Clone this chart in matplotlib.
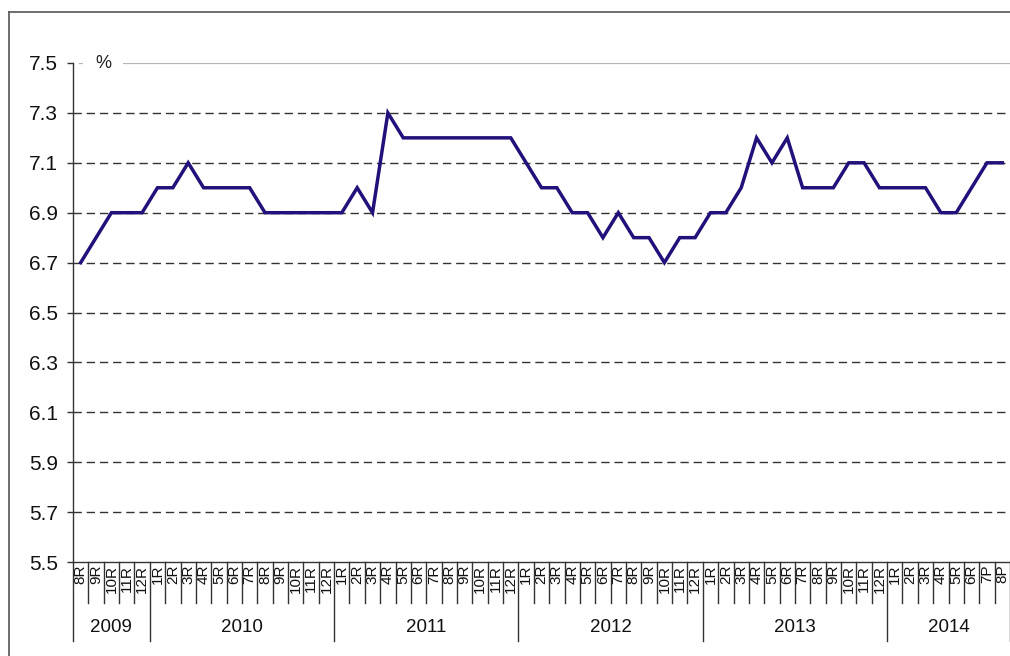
import numpy as np
import matplotlib
matplotlib.use("Agg")
import matplotlib.pyplot as plt
from matplotlib.lines import Line2D
from matplotlib import transforms

plt.rcParams["font.family"] = ["Liberation Sans", "DejaVu Sans"]

# data
years = ["2009", "2010", "2011", "2012", "2013", "2014"]
year_months = [
    ["8R", "9R", "10R", "11R", "12R"],
    [f"{m}R" for m in range(1, 13)],
    [f"{m}R" for m in range(1, 13)],
    [f"{m}R" for m in range(1, 13)],
    [f"{m}R" for m in range(1, 13)],
    ["1R", "2R", "3R", "4R", "5R", "6R", "7P", "8P"],
]
values = [
    6.7, 6.8, 6.9, 6.9, 6.9,
    7.0, 7.0, 7.1, 7.0, 7.0, 7.0, 7.0, 6.9, 6.9, 6.9, 6.9, 6.9,
    6.9, 7.0, 6.9, 7.3, 7.2, 7.2, 7.2, 7.2, 7.2, 7.2, 7.2, 7.2,
    7.1, 7.0, 7.0, 6.9, 6.9, 6.8, 6.9, 6.8, 6.8, 6.7, 6.8, 6.8,
    6.9, 6.9, 7.0, 7.2, 7.1, 7.2, 7.0, 7.0, 7.0, 7.1, 7.1, 7.0,
    7.0, 7.0, 7.0, 6.9, 6.9, 7.0, 7.1, 7.1,
]
month_labels = [m for ms in year_months for m in ms]
yticks = np.round(np.arange(5.5, 7.51, 0.2), 1)

W, H = 1010, 656
fig = plt.figure(figsize=(W / 100, H / 100), dpi=100)
ax_left, ax_right, ax_top, ax_bottom = 73, 1010, 63, 562
ax = fig.add_axes([ax_left / W, 1 - ax_bottom / H,
                   (ax_right - ax_left) / W, (ax_bottom - ax_top) / H])
ax_h = ax_bottom - ax_top

x = np.arange(len(values))
ax.plot(x, values, color="#22117A", lw=2.5, solid_joinstyle="miter", zorder=3)

ax.set_xlim(-0.5, len(values) - 0.5)
ax.set_ylim(5.5, 7.5)

# grid
for yv in yticks[1:-1]:
    ax.axhline(yv, color="#333333", lw=1.0, dashes=(6, 3.5), zorder=1)
ax.axhline(7.5, xmin=0.008, color="#b5b5b5", lw=1.6, zorder=1)
ax.text(0.032, 1.0, "%", transform=ax.transAxes, ha="center", va="center",
        fontsize=13, color="#222222", zorder=4,
        bbox=dict(facecolor="white", edgecolor="none", pad=9))

# axes styling
for s in ["top", "right"]:
    ax.spines[s].set_visible(False)
ax.spines["left"].set_color("#333333")
ax.spines["bottom"].set_color("#333333")
ax.spines["left"].set_linewidth(1.0)
ax.spines["bottom"].set_linewidth(1.0)

ax.set_yticks(yticks)
ax.set_yticklabels([f"{v:.1f}" for v in yticks], fontsize=15, color="#111111")
ax.tick_params(axis="y", length=4.5, width=1.0, color="#333333", pad=6.5)

ax.set_xticks(x)
ax.set_xticklabels(month_labels, rotation=90, fontsize=11, color="#111111")
ax.tick_params(axis="x", length=0, pad=2)

# category separators under the axis
trans = transforms.blended_transform_factory(ax.transData, ax.transAxes)
year_starts = np.cumsum([0] + [len(m) for m in year_months])
for b in range(len(values) + 1):
    depth = 79 if b in year_starts else 41
    ax.add_line(Line2D([b - 0.5, b - 0.5], [0, -depth / ax_h], transform=trans,
                       color="#333333", lw=1.0, clip_on=False))

# year labels
for i, yr in enumerate(years):
    mid = (year_starts[i] + year_starts[i + 1] - 1) / 2
    ax.text(mid, -65 / ax_h, yr, transform=trans, ha="center", va="center",
            fontsize=13.5, color="#111111")

# outer frame (left and top)
fig.add_artist(Line2D([9 / W, 9 / W], [0, 1 - 12 / H], color="#555555", lw=1.2))
fig.add_artist(Line2D([9 / W, 1], [1 - 12 / H, 1 - 12 / H], color="#555555", lw=1.2))

fig.savefig("out.png", dpi=100)
